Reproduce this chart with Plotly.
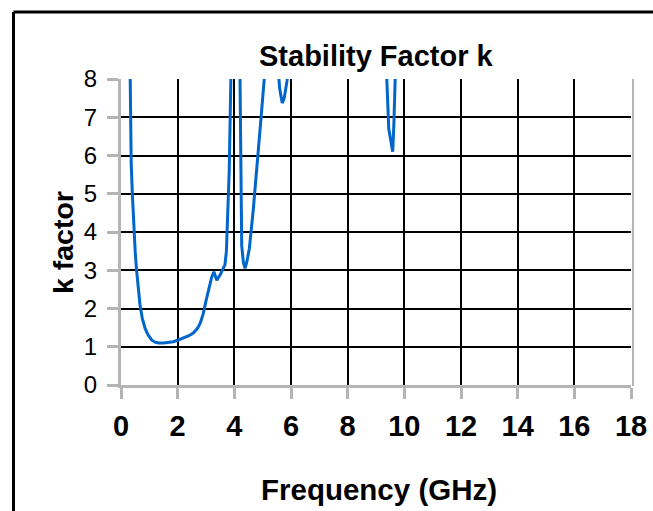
import plotly.graph_objects as go

# Frequency (GHz) samples
freq = [0.30, 0.33, 0.36, 0.40, 0.45, 0.50, 0.55, 0.60, 0.67, 0.75, 0.85, 0.95,
        1.08, 1.20, 1.32, 1.50, 1.70, 1.85, 2.00, 2.20, 2.40, 2.55, 2.70, 2.80,
        2.90, 3.00, 3.10, 3.20, 3.28, 3.38, 3.50, 3.60, 3.67, 3.72, 3.76, 3.82,
        3.88, 3.95, 4.10, 4.18, 4.22, 4.26, 4.32, 4.38, 4.45, 4.53, 4.67, 4.79,
        4.90, 5.00, 5.10, 5.30, 5.50, 5.60, 5.69, 5.76, 5.83, 5.86, 5.92, 6.50,
        7.50, 8.50, 9.30, 9.36, 9.45, 9.52, 9.59, 9.63, 9.70, 10.5, 12.0, 14.0,
        16.0, 18.0]

# Stability factor k
k_factor = [9.6, 7.2, 5.8, 5.0, 4.15, 3.5, 3.0, 2.6, 2.1, 1.75, 1.48, 1.32,
            1.18, 1.12, 1.10, 1.10, 1.11, 1.13, 1.17, 1.22, 1.29, 1.36, 1.48, 1.62,
            1.86, 2.2, 2.55, 2.82, 2.96, 2.74, 2.88, 3.05, 3.15, 3.5, 4.2, 5.6,
            8.1, 12.0, 12.0, 9.5, 5.5, 3.65, 3.2, 3.05, 3.25, 3.57, 4.6, 5.57,
            6.61, 7.5, 8.4, 9.5, 8.7, 7.75, 7.37, 7.5, 7.85, 7.95, 8.8, 11.0,
            13.0, 12.0, 9.2, 8.4, 6.7, 6.35, 6.1, 6.8, 8.6, 12.0, 14.0, 15.0,
            16.0, 17.0]

x_ticks = [0, 2, 4, 6, 8, 10, 12, 14, 16, 18]
y_ticks = [0, 1, 2, 3, 4, 5, 6, 7, 8]

FONT = "Liberation Sans, Arial, sans-serif"

fig = go.Figure()
fig.add_trace(go.Scatter(
    x=freq, y=k_factor, mode="lines",
    line=dict(color="#0066CC", width=3),
    showlegend=False, hoverinfo="skip"))

# plot area in pixels: x 121..631, y 79..385
L, R, T, B = 121, 631, 79, 385
W, H = R - L, B - T


def px(x):
    return (x - L) / W


def py(y):
    return (B - y) / H


fig.update_layout(
    width=653, height=511,
    margin=dict(l=L, r=653 - R, t=T, b=511 - B, pad=0, autoexpand=False),
    paper_bgcolor="white", plot_bgcolor="white",
    font=dict(family=FONT, color="black"),
    xaxis=dict(
        range=[0, 18], tickvals=x_ticks, ticktext=[str(v) for v in x_ticks],
        showgrid=True, gridcolor="black", gridwidth=2,
        showline=True, linecolor="#b4b4b4", linewidth=3,
        ticks="outside", ticklen=11, tickwidth=3, tickcolor="#b4b4b4",
        tickfont=dict(family=FONT, size=29, color="black", weight="bold"),
        ticklabelstandoff=2, automargin=False,
        zeroline=False, fixedrange=True,
    ),
    yaxis=dict(
        range=[0, 8], tickvals=y_ticks, ticktext=[str(v) for v in y_ticks],
        showgrid=True, gridcolor="black", gridwidth=2,
        showline=True, linecolor="#b4b4b4", linewidth=3,
        ticks="outside", ticklen=11, tickwidth=3, tickcolor="#b4b4b4",
        tickfont=dict(family=FONT, size=24, color="black"),
        ticklabelstandoff=5, automargin=False,
        zeroline=False, fixedrange=True,
    ),
    shapes=[
        # outer chart frame (left and top edges visible)
        dict(type="line", xref="paper", yref="paper",
             x0=px(13.5), x1=px(700), y0=py(12), y1=py(12),
             line=dict(color="black", width=3)),
        dict(type="line", xref="paper", yref="paper",
             x0=px(13.5), x1=px(13.5), y0=py(12), y1=py(560),
             line=dict(color="black", width=3)),
        # plot-area shadow on the right
        dict(type="line", xref="paper", yref="paper",
             x0=px(633), x1=px(633), y0=py(79), y1=py(386),
             line=dict(color="#b4b4b4", width=2)),
    ],
    annotations=[
        dict(text="<b>Stability Factor k</b>", xref="paper", yref="paper",
             x=px(376), y=py(56), xanchor="center", yanchor="middle",
             showarrow=False, font=dict(family=FONT, size=29, color="black")),
        dict(text="<b>Frequency (GHz)</b>", xref="paper", yref="paper",
             x=px(379), y=py(489), xanchor="center", yanchor="middle",
             showarrow=False, font=dict(family=FONT, size=29.5, color="black")),
        dict(text="<b>k factor</b>", xref="paper", yref="paper",
             x=px(63), y=py(243), xanchor="center", yanchor="middle",
             textangle=-90,
             showarrow=False, font=dict(family=FONT, size=28.5, color="black")),
    ],
)

fig.write_html("out.html",
               config={"displayModeBar": False, "responsive": False},
               post_script="document.body.style.margin='0';document.body.style.overflow='hidden';")
